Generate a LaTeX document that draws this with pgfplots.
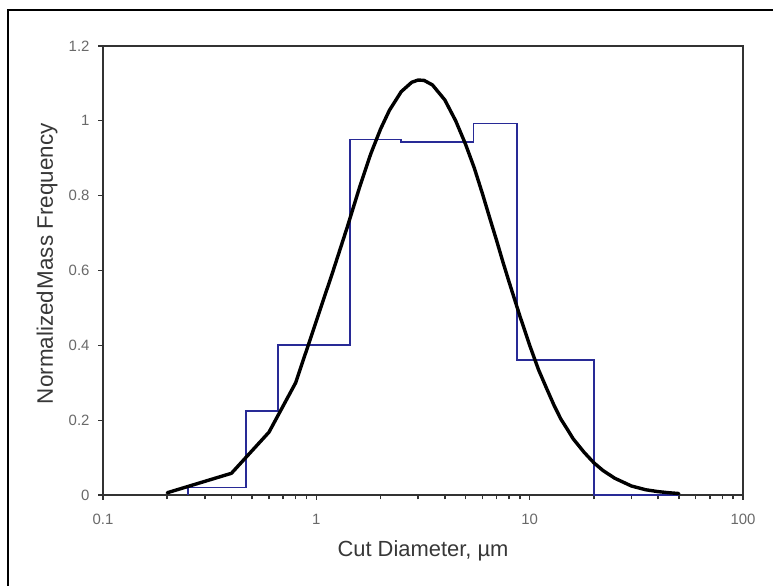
\documentclass[border=0pt]{standalone}
\usepackage{pgfplots}
\pgfplotsset{compat=1.18}
\usepackage{fontspec}
\setmainfont{Liberation Sans}
\definecolor{histblue}{RGB}{40,42,150}
\definecolor{tickgray}{RGB}{105,105,105}
\definecolor{labgray}{RGB}{55,55,55}
\definecolor{axgray}{RGB}{50,50,50}
\begin{document}
\begin{tikzpicture}[x=1bp,y=1bp]
\useasboundingbox (0,0) rectangle (773,586);
\draw[line width=2bp] (8,-20) -- (8,576) -- (800,576);
\begin{axis}[
  at={(103bp,91bp)}, anchor=south west,
  scale only axis, width=640bp, height=449bp,
  xmode=log, xmin=0.1, xmax=100, ymin=0, ymax=1.2,
  xtick={0.1,1,10,100}, xticklabels={0.1,1,10,100},
  minor xtick={0.2,0.3,0.4,0.5,0.6,0.7,0.8,0.9,2,3,4,5,6,7,8,9,20,30,40,50,60,70,80,90},
  ytick={0,0.2,0.4,0.6,0.8,1,1.2},
  yticklabels={0,0.2,0.4,0.6,0.8,1,1.2},
  tick align=outside, major tick length=5bp, minor tick length=4.5bp,
  xtick pos=bottom, ytick pos=left,
  axis line style={axgray, line width=1.5bp},
  major tick style={axgray, line width=1.3bp},
  minor tick style={axgray, line width=1.6bp},
  /pgf/number format/assume math mode=true,
  tick label style={font=\fontsize{15}{18}\selectfont, text=tickgray},
  xticklabel style={anchor=center, yshift=-19bp},
  yticklabel style={anchor=east, xshift=-5bp},
  label style={text=labgray},
  xlabel={Cut Diameter, µm},
  ylabel={Normalized\hspace{1.5bp}Mass Frequency},
  xlabel style={font=\fontsize{22}{26}\selectfont, at={(axis description cs:0.5,-0.124)}, anchor=center},
  ylabel style={font=\fontsize{22.5}{26}\selectfont, at={(axis description cs:-0.0875,0.515)}, anchor=center},
  clip=false,
]
\addplot[histblue, line width=1.8bp] coordinates {
  (0.25,0) (0.25,0.02) (0.47,0.02) (0.47,0.225) (0.66,0.225) (0.66,0.40)
  (1.44,0.40) (1.44,0.95) (2.5,0.95) (2.5,0.944) (5.45,0.944) (5.45,0.993)
  (8.7,0.993) (8.7,0.36) (20,0.36) (20,0) (50,0)
};
\addplot[black, line width=3.4bp, line join=round, line cap=round] coordinates {
  (0.2,0.006) (0.4,0.058) (0.6,0.168) (0.8,0.300) (1.0,0.465) (1.2,0.600)
  (1.4,0.718) (1.6,0.825) (1.8,0.912) (2.0,0.978) (2.2,1.028) (2.5,1.078)
  (2.8,1.103) (3.0,1.109) (3.2,1.108) (3.5,1.096) (4.0,1.056) (4.5,1.000)
  (5.0,0.938) (5.5,0.874) (6.0,0.806) (6.5,0.740) (7.0,0.680) (7.5,0.622)
  (8.0,0.570) (9.0,0.478) (10,0.400) (11,0.335) (12,0.285) (13,0.240)
  (14,0.203) (15,0.176) (16,0.150) (18,0.114) (20,0.086) (22,0.066)
  (25,0.045) (30,0.024) (35,0.014) (40,0.009) (45,0.006) (50,0.004)
};
\end{axis}
\end{tikzpicture}
\end{document}
